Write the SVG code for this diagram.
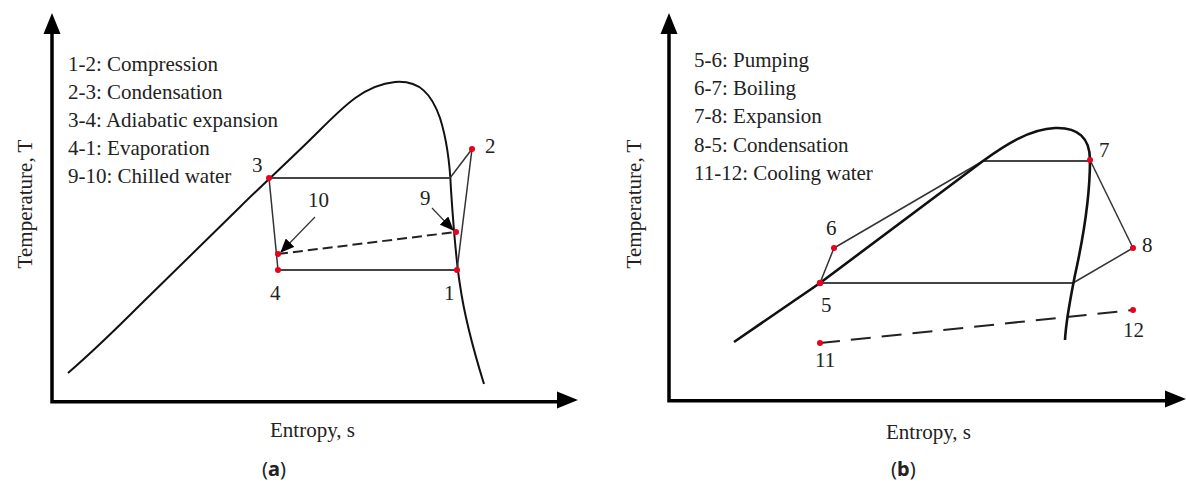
<svg xmlns="http://www.w3.org/2000/svg" width="1186" height="482" viewBox="0 0 1186 482">
<style>
text{font-family:"Liberation Serif","Times New Roman",serif;font-size:21px;fill:#222}
.cap{font-family:"Noto Sans","Liberation Sans",sans-serif;font-size:20px}
.axis{stroke:#000;stroke-width:3.5;fill:none}
.head{fill:#000}
.dome{stroke:#111;stroke-width:2;fill:none;stroke-linejoin:round}
.domeb{stroke:#111;stroke-width:2.6;fill:none;stroke-linejoin:round}
.thin{stroke:#333;stroke-width:1.5;fill:none}
.hline{stroke:#444;stroke-width:2;fill:none}
.dash{stroke:#222;stroke-width:2;fill:none;stroke-dasharray:10 5}
.dashb{stroke:#222;stroke-width:2;fill:none;stroke-dasharray:20 11}
.pt{fill:#e8001c}
.ptr{stroke:#333;stroke-width:1.2;fill:none}
</style>
<defs>
<marker id="ah" markerUnits="userSpaceOnUse" markerWidth="14" markerHeight="12" refX="13" refY="6" orient="auto">
<path d="M0,0 L14,6 L0,12 Z" fill="#000"/>
</marker>
</defs>

<!-- Panel (a) -->
<g id="axes-a">
<path class="axis" d="M52,32 V401.7 H560"/>
<polygon class="head" points="52,13 43.5,34 60.5,34"/>
<polygon class="head" points="578,400 557,391.5 557,408.5"/>
<text x="270" y="437">Entropy, s</text>
<text transform="translate(32,204) rotate(-90)" text-anchor="middle">Temperature, T</text>
<text class="cap" x="262" y="476">(<tspan font-weight="700">a</tspan>)</text>
</g>
<g id="legend-a">
<text x="68" y="71">1-2: Compression</text>
<text x="68" y="99">2-3: Condensation</text>
<text x="68" y="127">3-4: Adiabatic expansion</text>
<text x="68" y="155">4-1: Evaporation</text>
<text x="68" y="183">9-10: Chilled water</text>
</g>
<g id="dome-a">
<path class="dome" d="M68,373 C90,354 110,335 140,305 L240,207 C262,185 290,160 320,130 C345,105 365,85 395,82 C420,80 432,95 440,118 C447,140 450,165 451,190 C453,220 456,260 460,285 C465,320 475,355 484,384"/>
</g>
<g id="connectors">
<path class="hline" d="M269,178 H450"/>
<path class="thin" d="M450,178 L472,149"/>
<path class="thin" d="M472,149 L457,270"/>
<path class="hline" d="M457,270 H278"/>
<path class="thin" d="M278,270 L269,178"/>
<path class="dash" d="M278,254 L456,232"/>
<path class="ptr" d="M315,217 L281,252" marker-end="url(#ah)"/>
<path class="ptr" d="M432,208 L453,230" marker-end="url(#ah)"/>
<!-- panel b -->
<path class="thin" d="M820,283 L834,248"/>
<path class="thin" d="M834,248 L983,161"/>
<path class="hline" d="M983,161 H1090"/>
<path class="thin" d="M1090,160 L1133,248"/>
<path class="thin" d="M1133,248 L1073,283"/>
<path class="hline" d="M1073,283 H820"/>
<path class="dashb" d="M820,343 L1133,310"/>
</g>
<g id="p1"><circle class="pt" cx="457" cy="270" r="3"/><text x="444" y="300">1</text></g>
<g id="p2"><circle class="pt" cx="472" cy="149" r="3"/><text x="485" y="153">2</text></g>
<g id="p3"><circle class="pt" cx="269" cy="178" r="3"/><text x="252" y="172">3</text></g>
<g id="p4"><circle class="pt" cx="278" cy="270" r="3"/><text x="270" y="300">4</text></g>
<g id="p9"><circle class="pt" cx="456" cy="232" r="3"/><text x="420" y="205">9</text></g>
<g id="p10"><circle class="pt" cx="278" cy="254" r="3"/><text x="308" y="207">10</text></g>

<!-- Panel (b) -->
<g id="axes-b">
<path class="axis" d="M669,32 V400.7 H1166"/>
<polygon class="head" points="669,13 660.5,34 677.5,34"/>
<polygon class="head" points="1186,399 1165,390.5 1165,407.5"/>
<text x="886" y="439">Entropy, s</text>
<text transform="translate(641,204) rotate(-90)" text-anchor="middle">Temperature, T</text>
<text class="cap" x="891" y="476">(<tspan font-weight="700">b</tspan>)</text>
</g>
<g id="legend-b">
<text x="694" y="67">5-6: Pumping</text>
<text x="694" y="95">6-7: Boiling</text>
<text x="694" y="123">7-8: Expansion</text>
<text x="694" y="152">8-5: Condensation</text>
<text x="694" y="180">11-12: Cooling water</text>
</g>
<g id="dome-b">
<path class="domeb" d="M734,342 L820,283 L983,161 C1005,145 1030,129 1055,128 C1078,127 1090,138 1090,160 C1090,190 1085,230 1075,275 C1070,300 1066,320 1065,340"/>
</g>
<g id="p5"><circle class="pt" cx="820" cy="283" r="3.2"/><text x="821" y="312">5</text></g>
<g id="p6"><circle class="pt" cx="834" cy="248" r="3"/><text x="826" y="235">6</text></g>
<g id="p7"><circle class="pt" cx="1090" cy="160" r="3"/><text x="1099" y="157">7</text></g>
<g id="p8"><circle class="pt" cx="1133" cy="248" r="3"/><text x="1142" y="252">8</text></g>
<g id="p11"><circle class="pt" cx="820" cy="343" r="3"/><text x="815" y="367">11</text></g>
<g id="p12"><circle class="pt" cx="1133" cy="310" r="3"/><text x="1123" y="337">12</text></g>
</svg>
